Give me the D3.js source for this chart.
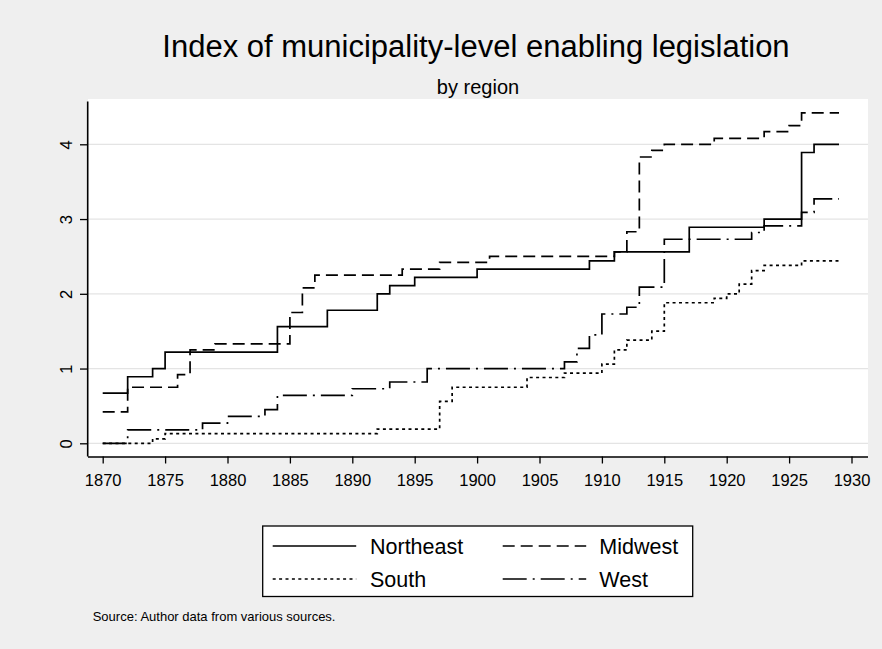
<!DOCTYPE html>
<html>
<head>
<meta charset="utf-8">
<script src="https://cdn.jsdelivr.net/npm/d3@7"></script>
<style>
  html, body { margin: 0; padding: 0; background: #efefef; }
  svg { display: block; font-family: "Liberation Sans", Arial, sans-serif; }
</style>
</head>
<body>
<svg id="chart" width="882" height="649"></svg>
<script>
// Step series: [year, index value]; each value holds until the next year listed
const northeast = [[1870,0.67],[1872,0.89],[1874,1.0],[1875,1.22],[1884,1.56],[1888,1.78],[1892,2.0],[1893,2.11],[1895,2.22],[1900,2.33],[1909,2.44],[1911,2.56],[1917,2.89],[1923,3.0],[1926,3.89],[1927,4.0]];
const midwest = [[1870,0.42],[1872,0.75],[1876,0.92],[1877,1.25],[1879,1.33],[1885,1.75],[1886,2.08],[1887,2.25],[1894,2.33],[1897,2.42],[1901,2.5],[1911,2.56],[1912,2.83],[1913,3.83],[1914,3.92],[1915,4.0],[1919,4.08],[1923,4.17],[1925,4.25],[1926,4.42]];
const south = [[1870,0],[1874,0.06],[1875,0.13],[1892,0.19],[1897,0.56],[1898,0.75],[1904,0.88],[1907,0.94],[1910,1.06],[1911,1.25],[1912,1.38],[1914,1.5],[1915,1.88],[1919,1.94],[1920,2.0],[1921,2.13],[1922,2.31],[1923,2.38],[1926,2.44]];
const west = [[1870,0],[1872,0.18],[1878,0.27],[1880,0.36],[1883,0.45],[1884,0.64],[1890,0.73],[1893,0.82],[1896,1.0],[1907,1.09],[1908,1.27],[1909,1.45],[1910,1.73],[1912,1.82],[1913,2.09],[1915,2.73],[1922,2.82],[1923,2.91],[1926,3.09],[1927,3.27]];
const lastYear = 1929;

const xTicks = [1870,1875,1880,1885,1890,1895,1900,1905,1910,1915,1920,1925,1930];
const yTicks = [0,1,2,3,4];

const titleText = "Index of municipality-level enabling legislation";
const subtitleText = "by region";
const sourceText = "Source: Author data from various sources.";

const seriesNames = ["Northeast","Midwest","South","West"];
const seriesData = [northeast, midwest, south, west];
const dashes = [null, "12,6", "3,3.4", "24,6,2,6"];

const svg = d3.select("#chart");
const plot = {left: 88, right: 868, top: 99, bottom: 456.5};

const x = d3.scaleLinear().domain([1870, 1930]).range([102.7, 851.5]);
const y = d3.scaleLinear().domain([0, 4]).range([443.3, 144.3]);

// Plot region
svg.append("rect")
  .attr("x", plot.left).attr("y", plot.top)
  .attr("width", plot.right - plot.left).attr("height", plot.bottom - plot.top)
  .attr("fill", "#ffffff");

// Horizontal grid lines
svg.append("g").selectAll("line").data(yTicks).join("line")
  .attr("x1", plot.left).attr("x2", plot.right)
  .attr("y1", d => y(d)).attr("y2", d => y(d))
  .attr("stroke", "#e4e4e4").attr("stroke-width", 1.3);

// Axes
const xAxis = svg.append("g")
  .attr("transform", `translate(0,${plot.bottom})`)
  .call(d3.axisBottom(x).tickValues(xTicks).tickFormat(d3.format("d")).tickSize(7).tickPadding(11).tickSizeOuter(0));
xAxis.select(".domain").attr("d", `M${plot.left},0.5H${plot.right}`).attr("stroke", "#000").attr("stroke-width", 1.6);
xAxis.selectAll(".tick line").attr("stroke", "#000").attr("stroke-width", 1.3);
xAxis.selectAll(".tick text").attr("font-size", 16.5).attr("fill", "#000")
  .attr("font-family", "'Liberation Sans', Arial, sans-serif");

const yAxis = svg.append("g")
  .attr("transform", `translate(${plot.left},0)`)
  .call(d3.axisLeft(y).tickValues(yTicks).tickFormat(d3.format("d")).tickSize(8).tickSizeOuter(0));
yAxis.select(".domain").attr("d", `M-0.3,${plot.top + 2.5}V${plot.bottom}`).attr("stroke", "#000").attr("stroke-width", 1.6);
yAxis.selectAll(".tick line").attr("stroke", "#000").attr("stroke-width", 1.3);
yAxis.selectAll(".tick text")
  .attr("font-size", 16.5).attr("fill", "#000")
  .attr("font-family", "'Liberation Sans', Arial, sans-serif")
  .attr("x", null).attr("dy", null)
  .attr("text-anchor", "middle")
  .attr("transform", "translate(-16.5,0) rotate(-90)");

// Step lines
const line = d3.line()
  .x(d => x(d[0])).y(d => y(d[1]))
  .curve(d3.curveStepAfter);

svg.append("g").selectAll("path").data(seriesData).join("path")
  .attr("d", d => line(d.concat([[lastYear, d[d.length - 1][1]]])))
  .attr("fill", "none")
  .attr("stroke", "#000")
  .attr("stroke-width", 1.7)
  .attr("stroke-dasharray", (d, i) => dashes[i]);

// Titles
svg.append("text").attr("x", 476).attr("y", 57.3)
  .attr("text-anchor", "middle").attr("font-size", 31).attr("fill", "#000")
  .text(titleText);
svg.append("text").attr("x", 478).attr("y", 94)
  .attr("text-anchor", "middle").attr("font-size", 20).attr("fill", "#000")
  .text(subtitleText);

// Legend
const legend = svg.append("g");
legend.append("rect")
  .attr("x", 262.7).attr("y", 526).attr("width", 430).attr("height", 70.5)
  .attr("fill", "#fff").attr("stroke", "#000").attr("stroke-width", 1.3);
const legendPos = [
  {lx: 272.7, tx: 370, ly: 546},
  {lx: 502.7, tx: 599.3, ly: 546},
  {lx: 272.7, tx: 370, ly: 579},
  {lx: 502.7, tx: 599.3, ly: 579}
];
const items = legend.selectAll("g.item").data(seriesNames).join("g").attr("class", "item");
items.append("line")
  .attr("x1", (d, i) => legendPos[i].lx).attr("x2", (d, i) => legendPos[i].lx + 83.5)
  .attr("y1", (d, i) => legendPos[i].ly).attr("y2", (d, i) => legendPos[i].ly)
  .attr("stroke", "#000").attr("stroke-width", 1.7)
  .attr("stroke-dasharray", (d, i) => dashes[i]);
items.append("text")
  .attr("x", (d, i) => legendPos[i].tx).attr("y", (d, i) => legendPos[i].ly + 8)
  .attr("font-size", 21.5).attr("fill", "#000")
  .text(d => d);

// Note
svg.append("text").attr("x", 92.7).attr("y", 621)
  .attr("font-size", 13).attr("fill", "#000")
  .text(sourceText);
</script>
</body>
</html>
